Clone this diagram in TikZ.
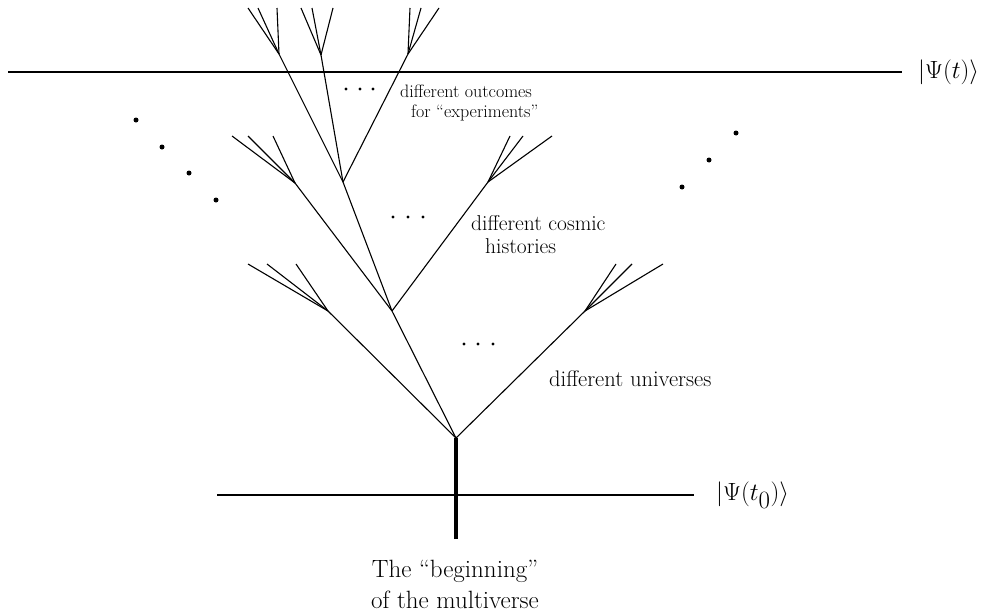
\documentclass[tikz,border=0pt]{standalone}
\begin{document}
\begin{tikzpicture}[x=1pt,y=-1pt,
  branch/.style={line width=1.1pt},
  level/.style={line width=1.3pt},
  stem/.style={line width=3.2pt},
  bigdot/.style={circle,fill=black,inner sep=0pt,minimum size=5pt},
  smalldot/.style={circle,fill=black,inner sep=0pt,minimum size=3.2pt},
  ket/.style={inner sep=0pt,anchor=west,font=\fontsize{33}{39}\selectfont},
  lbl/.style={inner sep=0pt,anchor=base west,align=left}]
\useasboundingbox (0,0) rectangle (1005,613);
% vertices
\coordinate (R) at (456,438);
\coordinate (S) at (456,539);
\coordinate (A) at (328,311);
\coordinate (B) at (392,311);
\coordinate (E) at (585,311);
\coordinate (C1) at (295,183);
\coordinate (C2) at (343,182);
\coordinate (C3) at (488,182);
\coordinate (D1) at (279,54);
\coordinate (D2) at (321,55);
\coordinate (D3) at (408,54);
% horizontal time slices
\coordinate (tl) at (8,72);
\coordinate (tr) at (902,72);
\coordinate (bl) at (217,495);
\coordinate (br) at (694,495);
\draw[level] (tl) -- (tr);
\draw[level] (bl) -- (br);
\node[ket] (psit) at (918,72) {$|\Psi(t)\rangle$};
\node[ket] (psit0) at (716,495) {$|\Psi(t_0)\rangle$};
% stem
\draw[stem] (S) -- (R);
% main branches
\draw[branch] (R) -- (A);
\draw[branch] (R) -- (B);
\draw[branch] (R) -- (E);
\draw[branch] (B) -- (C1);
\draw[branch] (B) -- (C2);
\draw[branch] (B) -- (C3);
\draw[branch] (C2) -- (D1);
\draw[branch] (C2) -- (D2);
\draw[branch] (C2) -- (D3);
% fans
\foreach \x in {248,267,296} \draw[branch] (A) -- (\x,264);
\foreach \x in {616,632,663} \draw[branch] (E) -- (\x,264);
\foreach \x in {232,248,273} \draw[branch] (C1) -- (\x,136);
\foreach \x in {510,523,552} \draw[branch] (C3) -- (\x,136);
\foreach \x in {248,258,277} \draw[branch] (D1) -- (\x,8);
\foreach \x in {301,312,333} \draw[branch] (D2) -- (\x,8);
\foreach \x in {410,421,439} \draw[branch] (D3) -- (\x,8);
% scattered dots
\foreach \p [count=\i] in {(136,120),(162,147),(189,173),(216,200),(682,187),(709,160),(736,133)}
  \node[bigdot] (sd\i) at \p {};
% ellipses
\foreach \x [count=\i] in {346,360,373} \node[smalldot] (ea\i) at (\x,89) {};
\foreach \x [count=\i] in {393,408,423} \node[smalldot] (eb\i) at (\x,217) {};
\foreach \x [count=\i] in {464,478,493} \node[smalldot] (ec\i) at (\x,344) {};
% labels (base = baseline of last line)
\node[lbl,font=\fontsize{18}{20}\selectfont] (lexp) at (400,117)
  {different outcomes\\\hspace*{11pt}for “experiments”};
\node[lbl,font=\fontsize{21.5}{23}\selectfont] (lcos) at (471,253)
  {different cosmic\\\hspace*{14pt}histories};
\node[lbl,font=\fontsize{22.5}{26}\selectfont] (luni) at (549,386)
  {different universes};
\node[inner sep=0pt,anchor=base,align=center,font=\fontsize{25}{31}\selectfont] (lbeg) at (455,608)
  {The “beginning”\\of the multiverse};
\end{tikzpicture}
\end{document}
